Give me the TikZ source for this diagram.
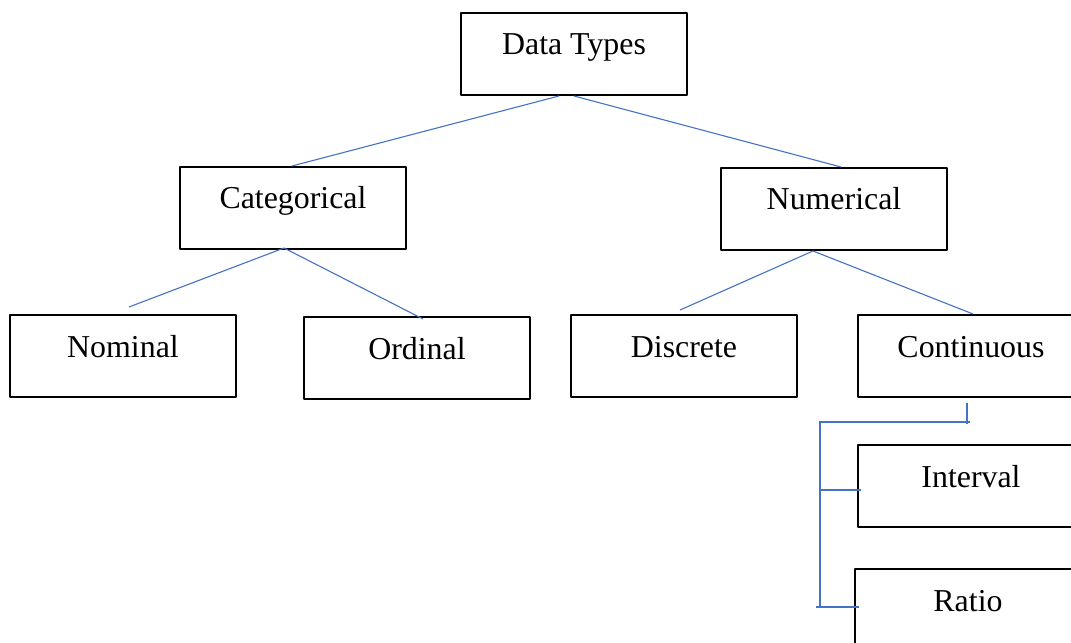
\documentclass[tikz,border=0pt]{standalone}
\usepackage{fontspec}
\setmainfont{Liberation Serif}
\usepackage{tikz}

\definecolor{edgeblue}{HTML}{4472C4}
\tikzset{
  typebox/.style={draw=black, line width=2bp, anchor=north west,
    inner xsep=0pt, inner ysep=0pt, minimum width=226bp,
    text height=42bp, text depth=40bp, font=\fontsize{32}{38}\selectfont},
  branch/.style={draw=edgeblue, line width=1.1bp},
}

\begin{document}
\begin{tikzpicture}[x=1bp,y=-1bp,line join=bevel]
  \clip (0,0) rectangle (1071,643);
  \fill[white] (0,0) rectangle (1071,643);
%%
  % Node: dt
  \node[typebox] (dt) at (460,12) {Data Types};
  % Node: cat
  \node[typebox] (cat) at (179,166) {Categorical};
  % Node: num
  \node[typebox] (num) at (720,167) {Numerical};
  % Node: nom
  \node[typebox] (nom) at (9,314) {Nominal};
  % Node: ord
  \node[typebox] (ord) at (303,316) {Ordinal};
  % Node: dis
  \node[typebox] (dis) at (570,314) {Discrete};
  % Node: con
  \node[typebox] (con) at (857,314) {Continuous};
  % Node: int
  \node[typebox] (int) at (857,444) {Interval};
  % Node: rat
  \node[typebox] (rat) at (854,568) {Ratio};
%
  % Edge: dt -> cat, dt -> num
  \draw[branch] ([xshift=-15bp]dt.south) -- ([xshift=-1bp]cat.north);
  \draw[branch] (dt.south) -- ([xshift=7bp]num.north);
  % Edge: cat -> nom, cat -> ord
  \draw[branch] ([xshift=-9bp,yshift=2bp]cat.south) -- ([xshift=6bp,yshift=7bp]nom.north);
  \draw[branch] ([xshift=-9bp,yshift=2bp]cat.south) -- ([xshift=6bp,yshift=-3bp]ord.north);
  % Edge: num -> dis, num -> con
  \draw[branch] ([xshift=-21bp]num.south) -- ([xshift=-4bp,yshift=4bp]dis.north);
  \draw[branch] ([xshift=-21bp]num.south) -- ([xshift=2bp]con.north);
  % Edge: con -> int, con -> rat (bracket)
  \coordinate (spine) at (820,422);
  \coordinate (inttick) at ([xshift=4bp,yshift=-4bp]int.west);
  \coordinate (rattick) at ([xshift=5bp,yshift=3bp]rat.west);
  \draw[branch] ([xshift=-4bp,yshift=-5bp]con.south) -- ([xshift=-4bp,yshift=-26bp]con.south);
  \draw[branch] ([xshift=-1bp]spine) -- ([xshift=150bp]spine);
  \draw[branch] (spine) -- (spine |- rattick);
  \draw[branch] (spine |- inttick) -- (inttick);
  \draw[branch] ([xshift=-4bp]spine |- rattick) -- (rattick);
%
\end{tikzpicture}
\end{document}
